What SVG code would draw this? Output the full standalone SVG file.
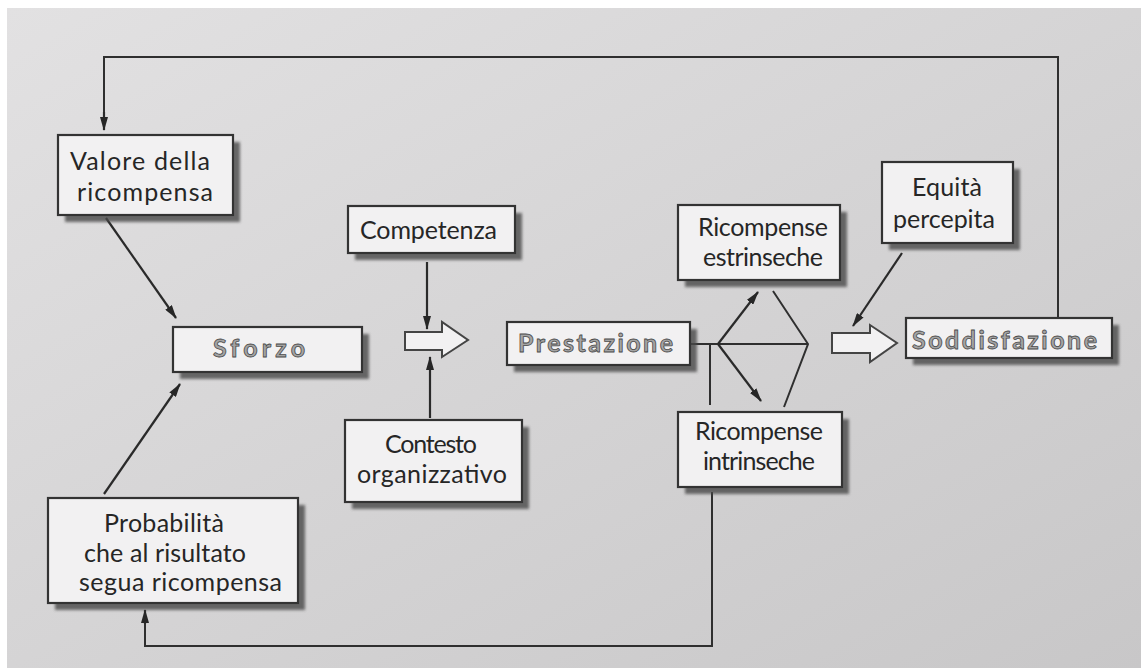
<svg xmlns="http://www.w3.org/2000/svg" width="1141" height="668" viewBox="0 0 1141 668">
<defs>
<linearGradient id="bg" x1="0" y1="0" x2="1" y2="1">
<stop offset="0" stop-color="#e2e1e2"/>
<stop offset="1" stop-color="#c8c7c8"/>
</linearGradient>
<marker id="ah" viewBox="0 0 14 8" refX="13" refY="4" markerWidth="14" markerHeight="8" markerUnits="userSpaceOnUse" orient="auto">
<path d="M0,0 L14,4 L0,8 z" fill="#262626"/>
</marker>
<filter id="blur" x="-10%" y="-10%" width="130%" height="140%">
<feGaussianBlur stdDeviation="1.5"/>
</filter>
</defs>
<style>
.box{fill:#f2f1f2;stroke:#333;stroke-width:2.2}
.sh{fill:#4a4a4a;opacity:0.8;filter:url(#blur)}
.t{font-family:Lato,"Liberation Sans",sans-serif;font-size:25px;fill:#262626;lengthAdjust:spacingAndGlyphs}
.g{font-family:Lato,"Liberation Sans",sans-serif;font-size:25px;font-weight:bold;fill:#a4a4a4;stroke:#4a4a4a;stroke-width:0.8}
.ln{fill:none;stroke:#2f2f2f;stroke-width:2}
.la{fill:none;stroke:#2a2a2a;stroke-width:2.2;marker-end:url(#ah)}
.ha{fill:#f2f1f2;stroke:#444;stroke-width:2}
</style>
<rect x="0" y="0" width="1141" height="668" fill="#ffffff"/>
<rect x="7" y="8" width="1134" height="660" fill="url(#bg)"/>

<g id="connectors">
<path class="ln" d="M712,492 L712,646 L145,646 L145,620"/>
<path class="la" d="M145,624 L145,610"/>
<path class="ln" d="M1058,318 L1058,57 L104,57 L104,118"/>
<path class="la" d="M104,112 L104,130"/>
<path class="la" d="M106,218 L176,318"/>
<path class="la" d="M104,494 L180,384"/>
<path class="la" d="M427,262 L427,329"/>
<path class="la" d="M430,418 L430,357"/>
<path class="ln" d="M690,344 L808,344"/>
<path class="ln" d="M710,344 L710,405"/>
<path class="la" d="M718,344 L758,292"/>
<path class="ln" d="M773,291 L808,344 L784,407"/>
<path class="la" d="M718,344 L761,401"/>
<path class="la" d="M902,253 L853,326"/>
<path class="ha" d="M405,332 L442,332 L442,322 L468,340 L442,357 L442,350 L405,350 z"/>
<path class="ha" d="M832,333 L870,333 L870,325 L897,343 L870,362 L870,353 L832,353 z"/>
</g>

<g id="valore">
<rect class="sh" x="65" y="142" width="175" height="80"/>
<rect class="box" x="58" y="135" width="175" height="80"/>
<text class="t" x="70" y="170" textLength="140">Valore della</text>
<text class="t" x="77" y="201" textLength="136">ricompensa</text>
</g>

<g id="sforzo">
<rect class="sh" x="180" y="334" width="189" height="45"/>
<rect class="box" x="173" y="327" width="189" height="45"/>
<text class="g" x="213" y="357" textLength="92">Sforzo</text>
</g>

<g id="competenza">
<rect class="sh" x="355" y="213" width="167" height="47"/>
<rect class="box" x="348" y="206" width="167" height="47"/>
<text class="t" x="360" y="239" textLength="137">Competenza</text>
</g>

<g id="contesto">
<rect class="sh" x="352" y="427" width="177" height="82"/>
<rect class="box" x="345" y="420" width="177" height="82"/>
<text class="t" x="385" y="453" textLength="92">Contesto</text>
<text class="t" x="357" y="483" textLength="150">organizzativo</text>
</g>

<g id="prestazione">
<rect class="sh" x="514" y="329" width="183" height="43"/>
<rect class="box" x="507" y="322" width="183" height="43"/>
<text class="g" x="518" y="352" textLength="155">Prestazione</text>
</g>

<g id="estrinseche">
<rect class="sh" x="685" y="212" width="162" height="75"/>
<rect class="box" x="678" y="205" width="162" height="75"/>
<text class="t" x="698" y="236" textLength="130">Ricompense</text>
<text class="t" x="703" y="266" textLength="120">estrinseche</text>
</g>

<g id="intrinseche">
<rect class="sh" x="685" y="419" width="164" height="75"/>
<rect class="box" x="678" y="412" width="164" height="75"/>
<text class="t" x="695" y="440" textLength="128">Ricompense</text>
<text class="t" x="703" y="470" textLength="112">intrinseche</text>
</g>

<g id="equita">
<rect class="sh" x="889" y="169" width="131" height="81"/>
<rect class="box" x="882" y="162" width="131" height="81"/>
<text class="t" x="912" y="196" textLength="70">Equità</text>
<text class="t" x="893" y="228" textLength="102">percepita</text>
</g>

<g id="soddisfazione">
<rect class="sh" x="913" y="325" width="206" height="40"/>
<rect class="box" x="906" y="318" width="206" height="40"/>
<text class="g" x="912" y="349" textLength="185">Soddisfazione</text>
</g>

<g id="probabilita">
<rect class="sh" x="55" y="505" width="250" height="105"/>
<rect class="box" x="48" y="498" width="250" height="105"/>
<text class="t" x="104" y="532" textLength="120">Probabilità</text>
<text class="t" x="84" y="562" textLength="162">che al risultato</text>
<text class="t" x="79" y="591" textLength="203">segua ricompensa</text>
</g>
</svg>
